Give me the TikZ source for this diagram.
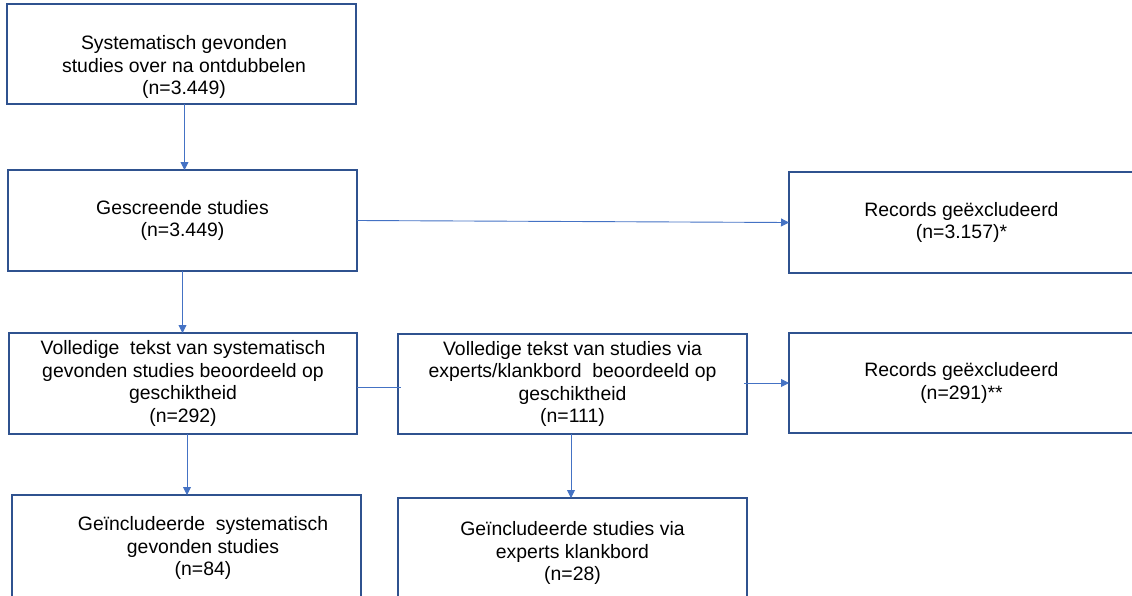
\documentclass[tikz,border=0pt]{standalone}
\usepackage{fontspec}
\setmainfont{Liberation Sans}
\usetikzlibrary{arrows.meta,calc}
\definecolor{boxblue}{RGB}{47,82,143}
\definecolor{lineblue}{RGB}{68,114,196}
\begin{document}
\begin{tikzpicture}[x=1pt,y=-1pt,
  box/.style={draw=boxblue,line width=1.3pt,minimum width=349,minimum height=100,outer sep=0pt,align=center,inner sep=0pt},
  txt/.style={align=center,inner sep=0pt},
  link/.style={draw=lineblue,line width=0.9pt},
  arr/.style={link,-{Triangle[length=8pt,width=8pt]}}]
\fontsize{19.4}{22.5}\selectfont
\useasboundingbox (0,0) rectangle (1132,595);
\node[box] (b1) at (181.5,54) {};
\node[txt] (t1) at (184,67) {Systematisch gevonden\\studies over na ontdubbelen\\(n=3.449)};
\node[box,minimum height=101] (b2) at (182.5,220.5) {Gescreende studies\\(n=3.449)};
\node[box,minimum width=345,minimum height=101] (b3) at (961.5,222.5) {Records geëxcludeerd\\(n=3.157)*};
\node[box,minimum width=348,minimum height=101] (b4) at (183,383.5) {Volledige\ \ tekst van systematisch\\gevonden studies beoordeeld op\\geschiktheid\\(n=292)};
\node[box] (b5) at (572.5,384) {Volledige tekst van studies via\\experts/klankbord\ \ beoordeeld op\\geschiktheid\\(n=111)};
\node[box,minimum width=345] (b6) at (961.5,383) {Records geëxcludeerd\\(n=291)**};
\node[box,minimum height=106] (b7) at (186.5,548) {};
\node[txt] (t7) at (203,548) {Geïncludeerde\ \ systematisch\\gevonden studies\\(n=84)};
\node[box,minimum height=110] (b8) at (572.5,553) {Geïncludeerde studies via\\experts klankbord\\(n=28)};
\draw[arr] ([xshift=3]b1.south) -- ([xshift=3]b1.south |- b2.north);
\draw[arr] (b2.east) -- (b3.west);
\draw[arr] (b2.south) -- (b2.south |- b4.north);
\draw[arr] ([xshift=4]b4.south) -- ([xshift=4]b4.south |- b7.north);
\coordinate (j) at ([yshift=-3.5]b4.east);
\draw[link] (j) -- ([xshift=3]j -| b5.west);
\draw[arr] ([xshift=-3]b5.east |- b6.west) -- (b6.west);
\draw[arr] ([xshift=-1.5]b5.south) -- ([xshift=-1.5]b5.south |- b8.north);
\end{tikzpicture}
\end{document}
